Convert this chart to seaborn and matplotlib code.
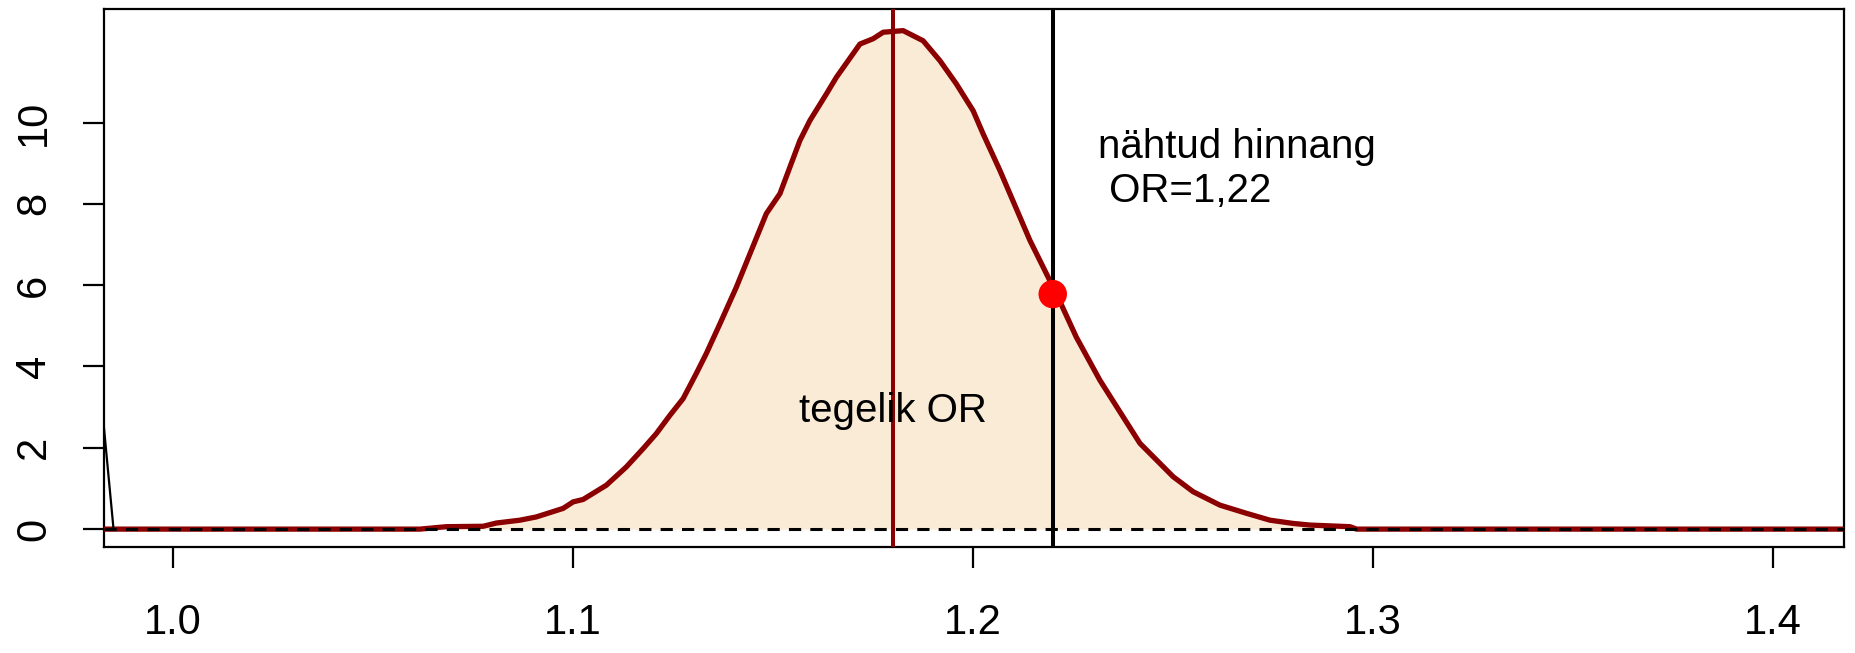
import numpy as np
import pandas as pd
import matplotlib
matplotlib.use("Agg")
import matplotlib.pyplot as plt
import seaborn as sns

# density curve
dens_x = [0.98, 1.0618, 1.0684, 1.0776, 1.0809, 1.0868, 1.0909, 1.0976, 1.1001, 1.1026,
          1.1084, 1.1134, 1.1176, 1.1209, 1.1243, 1.1276, 1.1309, 1.1334, 1.1368, 1.1409,
          1.1484, 1.1518, 1.1568, 1.1593, 1.1634, 1.1659, 1.1718, 1.1751, 1.1776, 1.1826,
          1.1876, 1.1918, 1.1959, 1.2001, 1.2026, 1.2068, 1.2143, 1.2209, 1.2259, 1.2318,
          1.2376, 1.2418, 1.2501, 1.2551, 1.2618, 1.2684, 1.2743, 1.2801, 1.2843, 1.2943,
          1.2960, 1.42]
dens_y = [0, 0, 0.06, 0.07, 0.15, 0.22, 0.30, 0.51, 0.67, 0.73,
          1.08, 1.53, 1.98, 2.35, 2.80, 3.21, 3.83, 4.32, 5.05, 5.95,
          7.76, 8.25, 9.56, 10.05, 10.70, 11.11, 11.93, 12.06, 12.22, 12.26,
          12.01, 11.52, 10.95, 10.29, 9.72, 8.82, 7.10, 5.79, 4.72, 3.66,
          2.76, 2.11, 1.29, 0.92, 0.59, 0.39, 0.22, 0.14, 0.10, 0.06,
          0, 0]

true_or = 1.18
observed_or = 1.22
observed_dens = 5.78

# stray line at the left edge
stray_x = [0.9828, 0.9852]
stray_y = [2.5, 0.0]

x_ticks = [1.0, 1.1, 1.2, 1.3, 1.4]
y_ticks = [0, 2, 4, 6, 8, 10]

label_obs = "nähtud hinnang\n OR=1,22"
label_true = "tegelik OR"

sns.set_style("ticks")
plt.rcParams['font.family'] = ['Liberation Sans', 'DejaVu Sans']
plt.rcParams['text.color'] = 'black'

dens = pd.DataFrame({"x": dens_x, "y": dens_y})

fig = plt.figure(figsize=(18.56, 6.53), dpi=100)
ax = fig.add_axes([0.056, 0.1623, 0.9375, 0.8232])

ax.fill_between(dens["x"], dens["y"], color="#FAEBD7", lw=0, zorder=1)
sns.lineplot(data=dens, x="x", y="y", color="#8B0000", lw=3.8, sort=False,
             ax=ax, zorder=3)
ax.axhline(0, color="black", lw=2.2, dashes=(4, 3), zorder=4)

ax.axvline(true_or, color="#8B0000", lw=2.9, zorder=5)
ax.axvline(observed_or, color="black", lw=2.9, zorder=5)
sns.lineplot(x=stray_x, y=stray_y, color="black", lw=1.6, ax=ax, zorder=5)
sns.scatterplot(x=[observed_or], y=[observed_dens], color="red", s=420,
                edgecolor="none", ax=ax, zorder=6)

ax.text(1.2313, 8.86, label_obs, fontsize=29, ha="left", va="center",
        linespacing=1.2, color="black", zorder=7)
ax.text(true_or, 2.9, label_true, fontsize=29, ha="center", va="center",
        color="black", zorder=7)

ax.set_xlim(0.9828, 1.4178)
ax.set_ylim(-0.44, 12.78)
ax.set_xticks(x_ticks)
ax.set_xticklabels([f"{v:.1f}" for v in x_ticks])
ax.set_yticks(y_ticks)
ax.set_yticklabels([str(v) for v in y_ticks], rotation=90, va="center")
ax.set_xlabel("")
ax.set_ylabel("")

for s in ax.spines.values():
    s.set_visible(True)
    s.set_linewidth(1.6)
    s.set_color("black")
ax.tick_params(axis="both", direction="out", length=15, width=1.6, labelsize=30,
               colors="black")
ax.tick_params(axis="x", pad=25)
ax.tick_params(axis="y", pad=21)

fig.savefig("out.png", dpi=100)
